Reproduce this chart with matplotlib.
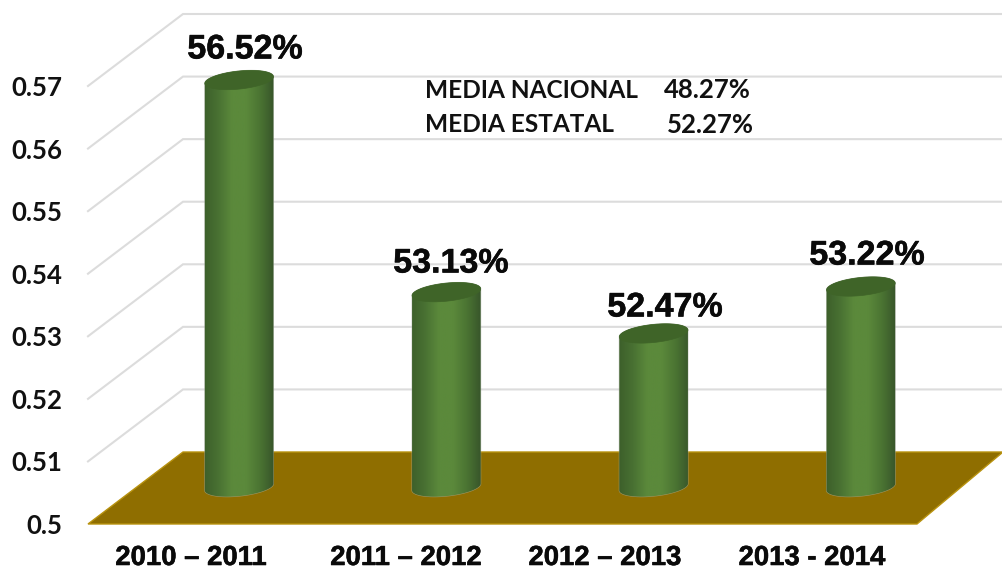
import numpy as np
import matplotlib
matplotlib.use("Agg")
import matplotlib.pyplot as plt
from matplotlib.colors import LinearSegmentedColormap
from matplotlib.patches import Polygon
import matplotlib.patheffects as pe

# datos
ciclos = ["2010 – 2011", "2011 – 2012", "2012 – 2013", "2013 - 2014"]
valores = [0.5652, 0.5313, 0.5247, 0.5322]
etiquetas = ["56.52%", "53.13%", "52.47%", "53.22%"]
ticks = [0.5, 0.51, 0.52, 0.53, 0.54, 0.55, 0.56, 0.57]
tick_labels = ["0.5", "0.51", "0.52", "0.53", "0.54", "0.55", "0.56", "0.57"]
medias = ["MEDIA NACIONAL", "MEDIA ESTATAL"]
medias_val = ["48.27%", "52.27%"]

W, H = 1003, 569
fig = plt.figure(figsize=(W / 100, H / 100), dpi=100)

# la pared frontal del grafico 3D es el area de ejes
ax = fig.add_axes([88 / W, (H - 524) / H, 829 / W, 438 / H])
ax.set_axis_off()

px_x = 829 / 4  # pixeles por categoria
px_y = 438 / 0.07  # pixeles por unidad
fondo_x = 95 / px_x
fondo_y = 72 / px_y

# rejilla: diagonal lateral + pared del fondo
for t in ticks[1:]:
    ax.plot([0, fondo_x, 4.5], [t, t + fondo_y, t + fondo_y], color="#dcdcdc", lw=1.5,
            clip_on=False, zorder=1, solid_joinstyle="miter")

# piso
piso = Polygon([(0, ticks[0]), (4, ticks[0]), (4 + 86 / px_x, ticks[0] + fondo_y), (fondo_x, ticks[0] + fondo_y)],
               facecolor="#8f6e00", edgecolor="#b8920f", lw=1, clip_on=False, zorder=2)
ax.add_patch(piso)

# cilindros
cmap = LinearSegmentedColormap.from_list("verde", ["#3c5e2a", "#487032", "#5b893b", "#5b893b", "#4a7332", "#36532a"])
grad = np.linspace(0, 1, 256).reshape(1, -1)
a, b, giro = 34.5, 9, np.radians(6)


def elipse(cx, cy, t):
    # elipse inclinada, en unidades de datos
    ex = a * np.cos(t) * np.cos(giro) - b * np.sin(t) * np.sin(giro)
    ey = a * np.cos(t) * np.sin(giro) + b * np.sin(t) * np.cos(giro)
    return np.column_stack([cx + ex / px_x, cy + ey / px_y])


base_y = ticks[0] + fondo_y / 2
for i, v in enumerate(valores):
    cx = i + 0.5 + fondo_x / 2
    cy = v + fondo_y / 2
    abajo = elipse(cx, base_y + 1 / px_y, np.linspace(np.pi, 2 * np.pi, 60))
    arriba = elipse(cx, cy, np.linspace(0, np.pi, 60))
    cuerpo = Polygon(np.vstack([abajo, arriba]), facecolor="none", edgecolor="#aab0a4", lw=0.8, alpha=0.6,
                     clip_on=False, zorder=3)
    ax.add_patch(cuerpo)
    clip = Polygon(np.vstack([abajo, arriba]), transform=ax.transData)
    im = ax.imshow(grad, cmap=cmap, aspect="auto", zorder=4,
                   extent=[cx - 36 / px_x, cx + 36 / px_x, base_y - 14 / px_y, cy + 14 / px_y])
    im.set_clip_path(clip)
    # la primera barra pasa del limite de los ejes
    im.set_clip_box(fig.bbox)
    tapa = Polygon(elipse(cx, cy, np.linspace(0, 2 * np.pi, 120)), facecolor="#3f6428", edgecolor="#3f6428",
                   lw=0.5, clip_on=False, zorder=5)
    ax.add_patch(tapa)

ax.set_xlim(0, 4)
ax.set_ylim(ticks[0], ticks[-1])

# textos
lato = ["Lato", "DejaVu Sans"]
arial = ["Liberation Sans", "DejaVu Sans"]
grueso = [pe.withStroke(linewidth=0.4, foreground="#0a0a0a")]
for t, lab in zip(ticks, tick_labels):
    ax.annotate(lab, (0, t), xytext=(-26, -2), textcoords="offset pixels", ha="right", va="center",
                fontsize=18.5, fontweight="bold", family=lato, color="#111111", annotation_clip=False)

pos_etq = [(245, 50), (451, 264), (665, 308), (867, 256)]
for (x, y), lab in zip(pos_etq, etiquetas):
    fig.text(x / W, 1 - y / H, lab, ha="center", va="center", fontsize=24.5, fontweight="bold",
             family=arial, color="#0a0a0a", path_effects=grueso)

pos_cat = [191, 406, 605, 812]
for x, lab in zip(pos_cat, ciclos):
    fig.text(x / W, 1 - 558 / H, lab, ha="center", va="center", fontsize=19.8, fontweight="bold",
             family=arial, color="#0a0a0a", path_effects=grueso)

for y, xv, nom, val in zip([90, 125], [664, 667], medias, medias_val):
    fig.text(425 / W, 1 - y / H, nom, ha="left", va="center", fontsize=17.6, fontweight="bold",
             family=lato, color="#111111")
    fig.text(xv / W, 1 - y / H, val, ha="left", va="center", fontsize=18.5, fontweight="bold",
             family=lato, color="#111111")

fig.savefig("out.png", dpi=100)
